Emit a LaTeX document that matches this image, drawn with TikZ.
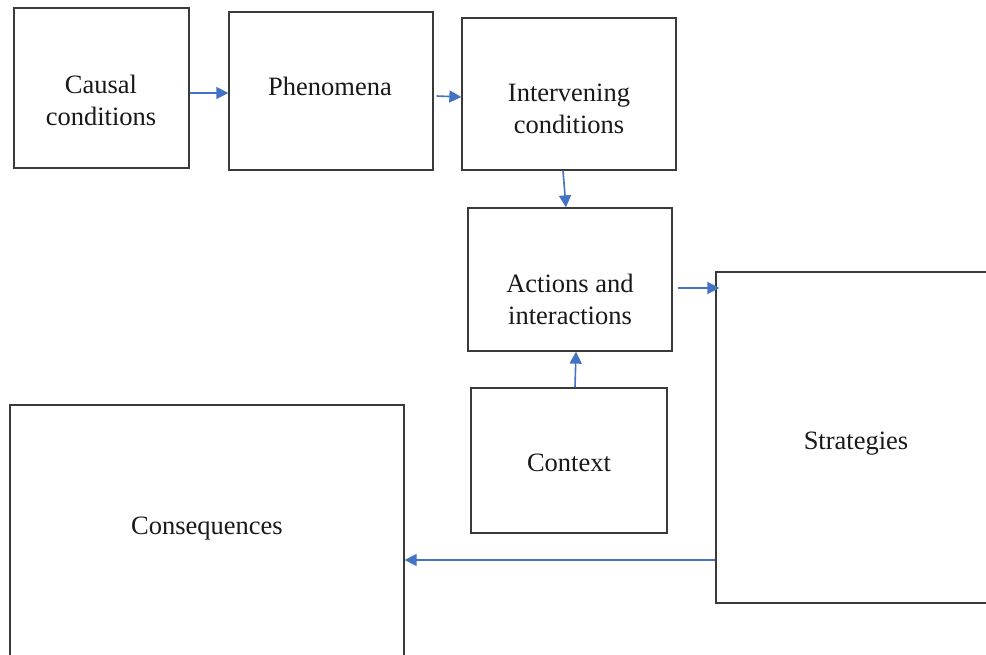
\documentclass[tikz,border=0pt]{standalone}
\usepackage{fontspec}
\setmainfont{Liberation Serif}
\usepackage{tikz}
\usetikzlibrary{arrows.meta}
\definecolor{flowblue}{RGB}{68,114,196}
\definecolor{boxline}{RGB}{58,58,58}

\begin{document}
\begin{tikzpicture}[
		x=1pt, y=-1pt,
		box/.style={rectangle, draw=boxline, line width=1.3pt, inner sep=0pt},
		lbl/.style={draw=none, inner sep=0pt, align=center, text=black!90,
			font=\fontsize{26.5}{32}\selectfont},
		flow/.style={draw=flowblue, line width=1.6pt, -{Triangle[length=12pt, width=12pt]}}
	]
  \clip (0,0) rectangle (986,655);
  \fill[white] (0,0) rectangle (986,655);
  % boxes
  \node (causal) [box, minimum width=175, minimum height=160] at (101.5, 88) {};
  \node (phen) [box, minimum width=204, minimum height=158] at (331, 91) {};
  \node (interv) [box, minimum width=214, minimum height=152] at (569, 94) {};
  \node (actions) [box, minimum width=204, minimum height=143] at (570, 279.5) {};
  \node (context) [box, minimum width=196, minimum height=145] at (569, 460.5) {};
  \node (strat) [box, minimum width=300, minimum height=331] at (866, 437.5) {};
  \node (conseq) [box, minimum width=394, minimum height=300] at (207, 555) {};
  % texts
  \node (causal_label) [lbl] at (101, 100) {Causal\\conditions};
  \node (phen_label) [lbl] at (330, 86) {Phenomena};
  \node (interv_label) [lbl] at (569, 109) {Intervening\\conditions};
  \node (actions_label) [lbl] at (570, 299) {Actions and\\interactions};
  \node (context_label) [lbl] at (569, 463) {Context};
  \node (strat_label) [lbl] at (856, 444) {Strategies};
  \node (conseq_label) [lbl] at (207, 529) {Consequences};
  % arrows
  \draw[flow] ([yshift=-5pt]causal.east) -- ([yshift=-5pt]causal.east -| phen.west);
  \draw[flow] ([shift={(3pt,-5pt)}]phen.east) -- ([yshift=-3pt]interv.west);
  \draw[flow] ([xshift=-6pt]interv.south) -- ([xshift=-4pt]actions.north);
  \draw[flow] ([shift={(5pt,-8.5pt)}]actions.east) -- ([shift={(4pt,-8.5pt)}]actions.east -| strat.west);
  \draw[flow] ([xshift=6pt]context.north) -- ([xshift=6pt]actions.south);
  \draw[flow] ([yshift=-122.5pt]strat.west) -- ([yshift=-122.5pt]strat.west -| conseq.east);
\end{tikzpicture}
\end{document}
